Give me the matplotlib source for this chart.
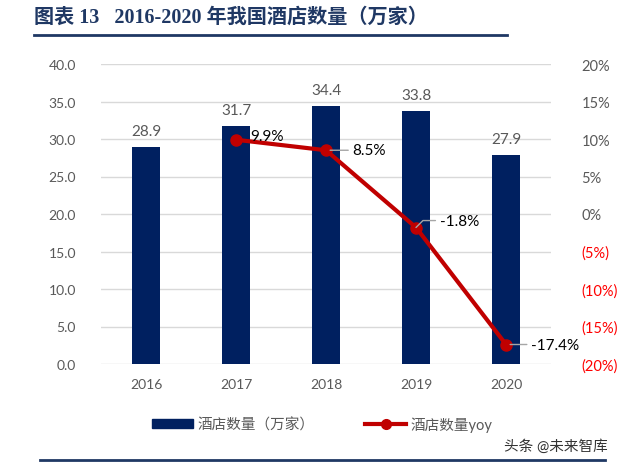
import numpy as np
import matplotlib
matplotlib.use('Agg')
import matplotlib.pyplot as plt
from matplotlib.lines import Line2D
from matplotlib.patches import Patch

plt.rcParams['font.family'] = ['Lato', 'Noto Sans CJK SC', 'DejaVu Sans']

years = ['2016', '2017', '2018', '2019', '2020']
hotels = [28.9, 31.7, 34.4, 33.8, 27.9]          # 万家
yoy_years = ['2017', '2018', '2019', '2020']
yoy = [9.9, 8.5, -1.8, -17.4]                    # %

navy = '#002060'
red = '#C00000'
gray = '#595959'

fig = plt.figure(figsize=(6.4, 4.64), dpi=100)
ax = fig.add_axes([101/640, 1 - 365/464, 450/640, 300/464])
x = np.arange(len(years))
ax.bar(x, hotels, width=0.31, color=navy, zorder=2)
for xi, v in zip(x, hotels):
    ax.text(xi, v + 1.2, f'{v:.1f}', ha='center', va='bottom', fontsize=11, color=gray)

ax.set_xlim(-0.5, 4.5)
ax.set_ylim(0, 40)
ax.set_yticks(np.arange(0, 41, 5))
ax.set_yticklabels([f'{v:.1f}' for v in np.arange(0, 41, 5)])
ax.set_xticks(x)
ax.set_xticklabels(years)
ax.grid(axis='y', color='#D9D9D9', linewidth=1, zorder=0)
ax.tick_params(length=0, labelsize=10, colors=gray, pad=10)
ax.tick_params(axis='y', pad=18)
for s in ax.spines.values():
    s.set_visible(False)

ax2 = ax.twinx()
xi2 = [years.index(y) for y in yoy_years]
ax2.plot(xi2, yoy, color=red, linewidth=3, marker='o', markersize=8, zorder=3)
ax2.set_ylim(-20, 20)
ticks = np.arange(-20, 21, 5)
ax2.set_yticks(ticks)
ax2.set_yticklabels([f'{t}%' if t >= 0 else f'({-t}%)' for t in ticks])
ax2.tick_params(length=0, labelsize=10.5, colors=gray, pad=22)
for t, lab in zip(ticks, ax2.get_yticklabels()):
    if t < 0:
        lab.set_color('#FF0000')
for s in ax2.spines.values():
    s.set_visible(False)

leader = dict(arrowstyle='-', color='#A6A6A6', lw=1, shrinkA=1, shrinkB=3)
ax2.annotate(f'{yoy[0]}%', (xi2[0], yoy[0]), xytext=(10, 3), textcoords='offset points',
             fontsize=11, va='center', color='black')
ax2.annotate(f'{yoy[1]}%', (xi2[1], yoy[1]), xytext=(19, 0), textcoords='offset points',
             fontsize=11, va='center', color='black', arrowprops=leader)
ax2.annotate(f'{yoy[2]}%', (xi2[2], yoy[2]), xytext=(17, 5), textcoords='offset points',
             fontsize=11, va='center', color='black',
             arrowprops=dict(arrowstyle='-', color='#A6A6A6', lw=1,
                             connectionstyle='angle,angleA=0,angleB=45,rad=0', shrinkA=1, shrinkB=0))
ax2.annotate(f'{yoy[3]}%', (xi2[3], yoy[3]), xytext=(18, 0), textcoords='offset points',
             fontsize=11, va='center', color='black', arrowprops=leader)

title_color = '#1F3864'
fig.text(34/640, 1 - 18/464, '图表 13   2016-2020 年我国酒店数量（万家）', fontsize=14.5,
         fontweight='bold', color=title_color, va='center',
         family=['Liberation Serif', 'Noto Sans CJK SC'])
fig.add_artist(Line2D([34/640, 507/640], [1 - 36/464] * 2, color=title_color, lw=2))
fig.add_artist(Line2D([40/640, 605/640], [1 - 461/464] * 2, color=title_color, lw=2))

handles = [Patch(color=navy, label='酒店数量（万家）'),
           Line2D([], [], color=red, lw=3, marker='o', markersize=7, label='酒店数量yoy')]
fig.legend(handles=handles, loc='center', bbox_to_anchor=(322/640, 1 - 425/464), ncol=2,
           frameon=False, fontsize=10.5, labelcolor=gray, handlelength=2.8, handleheight=0.6,
           columnspacing=3.5, handletextpad=0.3)

fig.text(608/640, 1 - 447/464, '头条 @未来智库', fontsize=10.5, ha='right', va='center', color='#333333')

fig.savefig('out.png', dpi=100)
